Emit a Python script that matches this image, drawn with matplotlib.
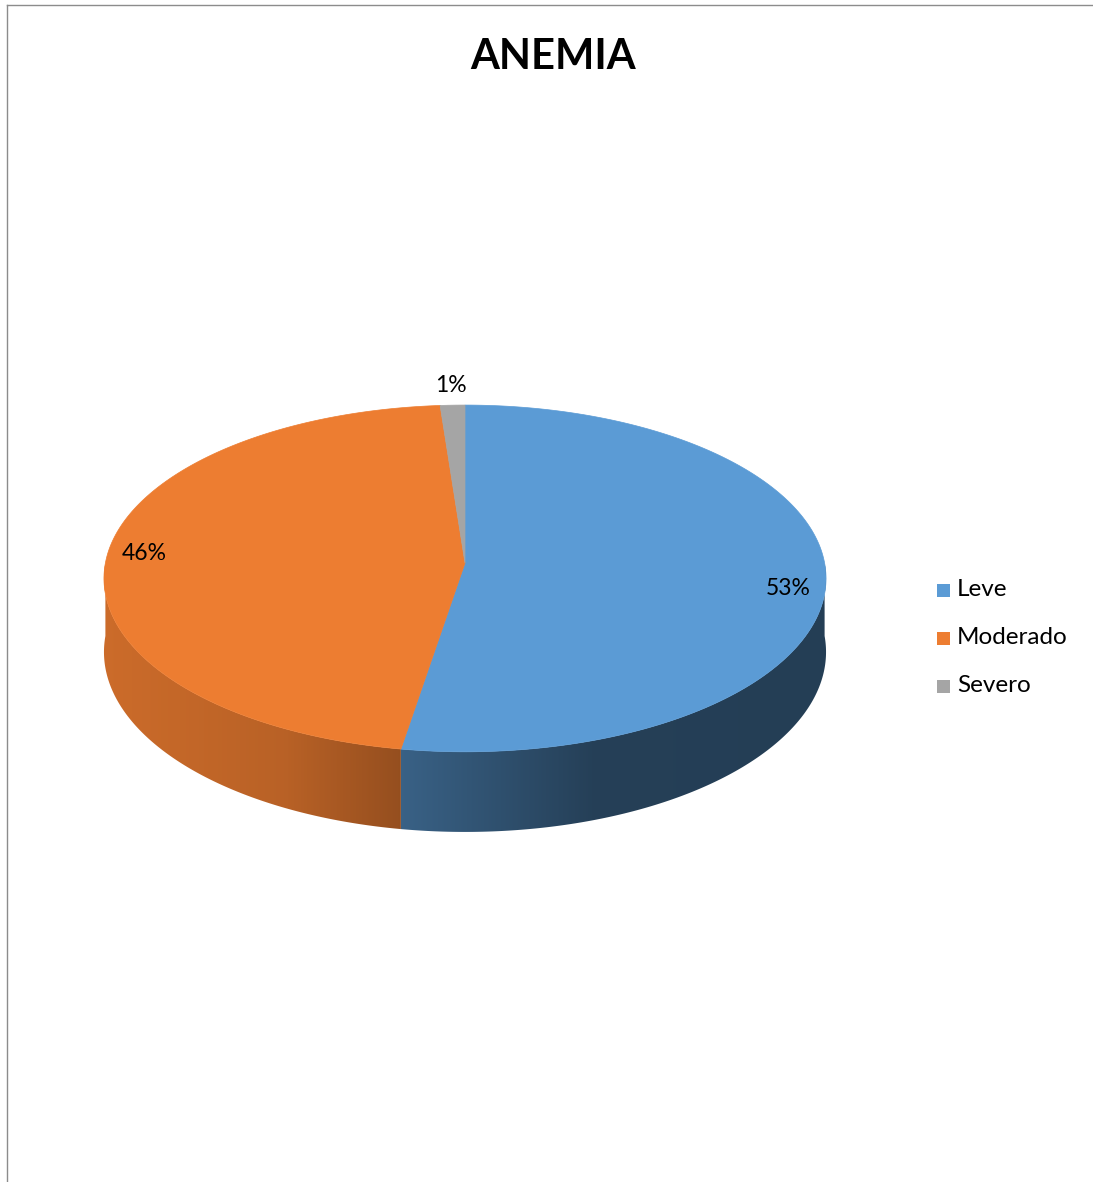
import numpy as np
import matplotlib
matplotlib.use("Agg")
import matplotlib.pyplot as plt
from matplotlib.patches import Polygon, Rectangle
from matplotlib.lines import Line2D

# Anemia severity shares (percent)
categories = ["Leve", "Moderado", "Severo"]
shares = [52.6, 46.2, 1.2]
colors = ["#5b9bd5", "#ed7d31", "#a5a5a5"]
title = "ANEMIA"

W, H = 1093, 1182
fig = plt.figure(figsize=(W / 100, H / 100), dpi=100)
ax = fig.add_axes([0, 0, 1, 1])
ax.set_xlim(0, W)
ax.set_ylim(H, 0)
ax.axis("off")

FONT = "Lato"

# Pie geometry in pixel space (perspective projected disc)
cx, cy = 465.0, 563.0
A, B = 359.6, 172.0
k = 0.089
T = 73.0  # disc thickness


def top_pt(theta_deg):
    t = np.radians(theta_deg)
    w = 1 + k * np.cos(t)
    return cx + A * np.sin(t) / w, cy - B * np.cos(t) / w


def bot_pt(theta_deg):
    t = np.radians(theta_deg)
    w = 1 + k * np.cos(t)
    x, y = top_pt(theta_deg)
    return x, y + T / w


def shade(x):
    u = (x - (cx - A)) / (2 * A)
    return np.interp(u, [0.0, 0.25, 0.41, 0.68, 1.0], [0.86, 0.78, 0.63, 0.41, 0.40])


total = sum(shares)
bounds = np.concatenate([[0], np.cumsum(shares)]) / total * 360.0

# Front side walls: horizontal light gradient clipped to each wall outline
xs = np.linspace(cx - A - 2, cx + A + 2, 800)
for i, col in enumerate(colors):
    a0, a1 = max(bounds[i], 90.0), min(bounds[i + 1], 270.0)
    if a1 <= a0:
        continue
    th = np.linspace(a0, a1, 300)
    outline = [top_pt(t) for t in th] + [bot_pt(t) for t in th[::-1]]
    wall = Polygon(outline, closed=True, facecolor="none", edgecolor="none")
    ax.add_patch(wall)
    rgb = np.array(matplotlib.colors.to_rgb(col))
    grad = np.clip(shade(xs)[None, :, None] * rgb[None, None, :], 0, 1)
    ys = [p[1] for p in outline]
    im = ax.imshow(grad, extent=(xs[0], xs[-1], max(ys) + 2, min(ys) - 2),
                   aspect="auto", interpolation="bilinear", zorder=1)
    im.set_clip_path(wall)

# Top faces
for i, col in enumerate(colors):
    th = np.linspace(bounds[i], bounds[i + 1], 200)
    arc = [top_pt(t) for t in th]
    ax.add_patch(Polygon([(cx, cy)] + arc, closed=True, facecolor=col,
                         edgecolor=col, linewidth=0.5, zorder=2))

# Percentage labels
label_dy = [13, -3, 0]
for i, s in enumerate(shares):
    mid = 0.5 * (bounds[i] + bounds[i + 1])
    label = f"{round(s)}%"
    if s < 5:
        x, y = top_pt(mid)
        ax.text(x - 2, y - 20, label, ha="center", va="center", fontsize=16.5,
                family=FONT, color="#000000", zorder=3)
    else:
        t = np.radians(mid)
        w = 1 + k * np.cos(t)
        r = 0.895
        x = cx + r * A * np.sin(t) / w
        y = cy - r * B * np.cos(t) / w + label_dy[i]
        ax.text(x, y, label, ha="center", va="center", fontsize=16.5,
                family=FONT, color="#000000", zorder=3)

# Title
ax.text(553, 57, title, ha="center", va="center", fontsize=30,
        fontweight="bold", family=FONT, color="#000000")

# Legend
for j, (name, col) in enumerate(zip(categories, colors)):
    y = 590 + 48 * j
    ax.add_patch(Rectangle((937, y - 6.5), 13, 13, facecolor=col, edgecolor="none"))
    ax.text(957, y, name, ha="left", va="center", fontsize=17.5, family=FONT,
            color="#000000")

# Chart frame
ax.add_line(Line2D([7, W], [5, 5], color="#8c8c8c", linewidth=1.0))
ax.add_line(Line2D([7, 7], [5, H], color="#8c8c8c", linewidth=1.0))

fig.savefig("out.png", dpi=100, facecolor="white")
